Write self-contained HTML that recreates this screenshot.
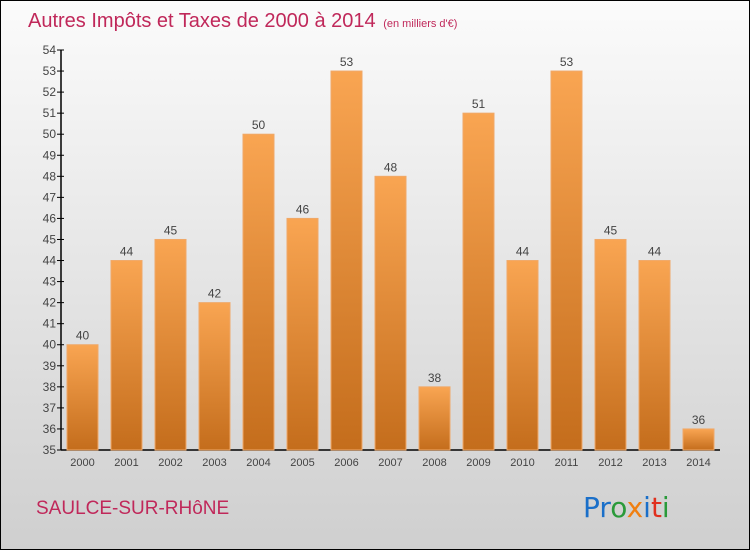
<!DOCTYPE html>
<html><head><meta charset="utf-8"><style>
body{margin:0}
#c{width:750px;height:550px;position:relative;overflow:hidden;font-family:"Liberation Sans",sans-serif}
</style></head><body>
<div id="c">
<svg width="750" height="550" xmlns="http://www.w3.org/2000/svg" id="svg">
<defs>
<linearGradient id="bg" x1="0" y1="0" x2="0" y2="1"><stop offset="0" stop-color="#fbfbfb"/><stop offset="1" stop-color="#cfcfcf"/></linearGradient>
<linearGradient id="bar" x1="0" y1="0" x2="0" y2="1"><stop offset="0" stop-color="#f9a552"/><stop offset="1" stop-color="#c46d1c"/></linearGradient>
</defs>
<rect x="0.5" y="0.5" width="749" height="549" fill="url(#bg)" stroke="#000"/>
<text x="28" y="27" font-size="20" fill="#c0285a">Autres Impôts et Taxes de 2000 à 2014 <tspan font-size="11" dx="2">(en milliers d'€)</tspan></text>
<g id="plot"></g>
<text x="36" y="514" font-size="19" fill="#c0285a">SAULCE-SUR-RHôNE</text>
<text x="583" y="517" font-size="28" font-family="'DejaVu Sans',sans-serif"><tspan fill="#1a6fc9">Pr</tspan><tspan fill="#2a9a3a">o</tspan><tspan fill="#f07f10">x</tspan><tspan fill="#1a6fc9">i</tspan><tspan fill="#e0301e">t</tspan><tspan fill="#2a9a3a">i</tspan></text>
</svg>
</div>
<script>
const categories=["2000","2001","2002","2003","2004","2005","2006","2007","2008","2009","2010","2011","2012","2013","2014"];
const values=[40,44,45,42,50,46,53,48,38,51,44,53,45,44,36];
const yTicks=[35,36,37,38,39,40,41,42,43,44,45,46,47,48,49,50,51,52,53,54];
const NS="http://www.w3.org/2000/svg";
const g=document.getElementById('plot');
const y0=450,y1=50,vmin=35,vmax=54;
const yS=v=>y0-(v-vmin)/(vmax-vmin)*(y0-y1);
const xC=i=>82.5+i*44;
function mk(t,a){const e=document.createElementNS(NS,t);for(const k in a)e.setAttribute(k,a[k]);g.appendChild(e);return e;}
const ax=mk('line',{x1:61,y1:y1,x2:61,y2:y0,stroke:'#000','stroke-width':1.5});

const xa=mk('line',{x1:61,y1:y0,x2:720,y2:y0,stroke:'#000','stroke-width':1.5});

yTicks.forEach(v=>{
 const t=mk('line',{x1:57,x2:64,y1:yS(v),y2:yS(v),stroke:'#000'});
 
 const l=mk('text',{x:56,y:yS(v)+4,'font-size':12,fill:'#444','text-anchor':'end'});
 l.textContent=v;
 
});
categories.forEach((c,i)=>{
 const v=values[i],x=xC(i);
 const r=mk('rect',{x:x-15.5,y:yS(v),width:31,height:y0-yS(v),fill:'url(#bar)',stroke:'#f0a868','stroke-width':1});
 
 const vl=mk('text',{x:x,y:yS(v)-5,'font-size':12,fill:'#444','text-anchor':'middle'});
 vl.textContent=v;
 
 const xl=mk('text',{x:x,y:466,'font-size':11,fill:'#444','text-anchor':'middle'});
 xl.textContent=c;
 
});
</script>
</body></html>
